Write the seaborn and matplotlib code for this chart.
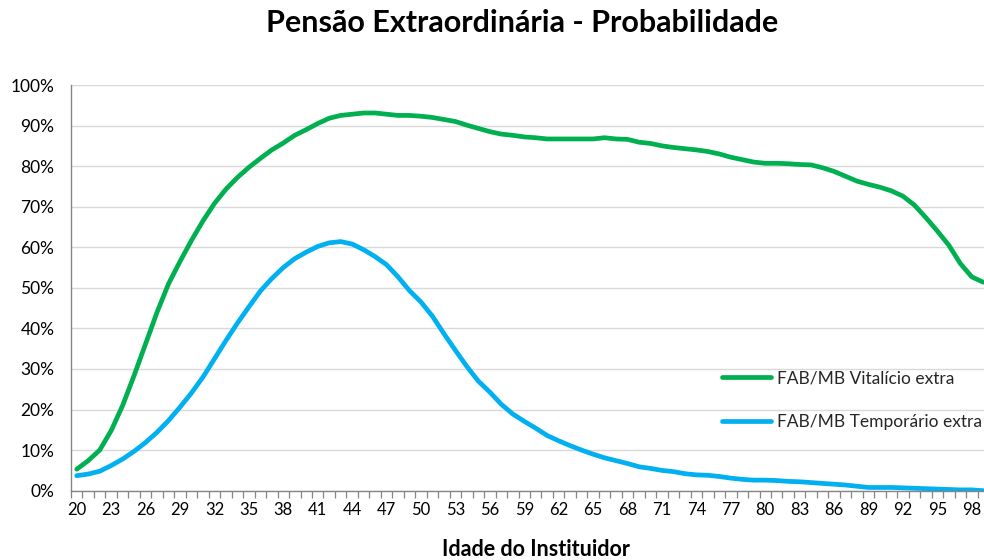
import numpy as np
import pandas as pd
import matplotlib
matplotlib.use("Agg")
import matplotlib.pyplot as plt
import seaborn as sns
from matplotlib.ticker import FixedLocator, FuncFormatter, MultipleLocator

# ---- data ----
ages = list(range(20, 100))
vitalicio = [5.3, 7.4, 10.0, 14.8, 21.0, 28.4, 36.2, 44.0, 51.0, 56.5,
             61.7, 66.5, 70.8, 74.3, 77.2, 79.7, 81.9, 84.0, 85.7, 87.6,
             89.0, 90.5, 91.8, 92.5, 92.8, 93.1, 93.1, 92.8, 92.5, 92.5,
             92.3, 92.0, 91.5, 91.0, 90.1, 89.3, 88.5, 87.9, 87.6, 87.2,
             87.0, 86.7, 86.7, 86.7, 86.7, 86.7, 87.0, 86.7, 86.6, 85.9,
             85.6, 85.0, 84.6, 84.3, 84.0, 83.6, 83.0, 82.2, 81.6, 81.0,
             80.7, 80.7, 80.6, 80.4, 80.3, 79.6, 78.7, 77.5, 76.3, 75.5,
             74.8, 73.9, 72.6, 70.4, 67.3, 64.0, 60.5, 56.0, 52.7, 51.4]
temporario = [3.7, 4.1, 4.8, 6.2, 7.8, 9.7, 11.9, 14.4, 17.3, 20.6,
              24.1, 28.0, 32.5, 37.0, 41.3, 45.3, 49.2, 52.3, 55.0, 57.2,
              58.8, 60.2, 61.1, 61.4, 60.8, 59.4, 57.7, 55.7, 52.7, 49.3,
              46.5, 43.0, 38.7, 34.6, 30.6, 27.0, 24.3, 21.3, 18.9, 17.1,
              15.4, 13.6, 12.3, 11.1, 10.0, 9.0, 8.1, 7.4, 6.7, 5.9,
              5.5, 5.0, 4.7, 4.2, 3.9, 3.8, 3.5, 3.1, 2.8, 2.6,
              2.6, 2.5, 2.3, 2.2, 2.0, 1.8, 1.6, 1.4, 1.1, 0.8,
              0.8, 0.8, 0.7, 0.6, 0.5, 0.4, 0.3, 0.2, 0.2, 0.0]
series_names = ["FAB/MB Vitalício extra", "FAB/MB Temporário extra"]
colors = ["#00B050", "#00B0F0"]
title = "Pensão Extraordinária - Probabilidade"
xlabel = "Idade do Instituidor"
xtick_labels = list(range(20, 99, 3))

df = pd.DataFrame({
    "Idade": ages * 2,
    "Prob": [v / 100 for v in vitalicio] + [v / 100 for v in temporario],
    "Série": [series_names[0]] * len(ages) + [series_names[1]] * len(ages),
})

sns.set_theme(style="white")
plt.rcParams["font.family"] = ["Lato", "DejaVu Sans"]

W, H = 984, 560
fig = plt.figure(figsize=(W / 100, H / 100), dpi=100)
ax_left, ax_right, ax_top, ax_bot = 71, 989, 85, 490.7
ax = fig.add_axes([ax_left / W, (H - ax_bot) / H, (ax_right - ax_left) / W, (ax_bot - ax_top) / H])

sns.lineplot(data=df, x="Idade", y="Prob", hue="Série", hue_order=series_names,
             palette=colors, linewidth=3.4, ax=ax, legend=True)

ax.set_xlim(19.5, 99.5)
ax.set_ylim(0, 1.0)

# grid
ax.yaxis.set_major_locator(MultipleLocator(0.1))
ax.yaxis.set_major_formatter(FuncFormatter(lambda v, p: f"{v*100:.0f}%"))
ax.grid(axis="y", color="#d9d9d9", linewidth=1.0)
ax.grid(axis="x", visible=False)
ax.set_axisbelow(True)

ax.xaxis.set_major_locator(FixedLocator(xtick_labels))
ax.xaxis.set_major_formatter(FuncFormatter(lambda v, p: f"{int(round(v))}"))
ax.xaxis.set_minor_locator(FixedLocator(np.arange(19.5, 100, 1.0)))
ax.tick_params(axis="x", which="major", length=0, pad=8, labelsize=12, colors="#000000")
ax.tick_params(axis="x", which="minor", length=5, width=0.9, color="#868686", direction="out", bottom=True)
ax.tick_params(axis="y", which="major", length=0, pad=12, labelsize=12.5, colors="#000000")

for s in ["top", "right"]:
    ax.spines[s].set_visible(False)
for s in ["left", "bottom"]:
    ax.spines[s].set_color("#868686")
    ax.spines[s].set_linewidth(1.0)

ax.set_xlabel("")
ax.set_ylabel("")

# legend
handles, labels = ax.get_legend_handles_labels()
ax.legend(handles, labels, frameon=False, loc="upper left",
          bbox_to_anchor=(722 / W, 1 - 370 / H), bbox_transform=fig.transFigure,
          borderpad=0, borderaxespad=0, handlelength=2.85, handletextpad=0.3,
          labelspacing=1.6, fontsize=12.5)

fig.text(522 / W, 1 - 23 / H, title, ha="center", va="center",
         fontsize=22, fontweight="bold", color="#000000")
fig.text(536 / W, 1 - 550 / H, xlabel, ha="center", va="center",
         fontsize=15.5, fontweight="bold", color="#000000")

fig.savefig("out.png", dpi=100)
